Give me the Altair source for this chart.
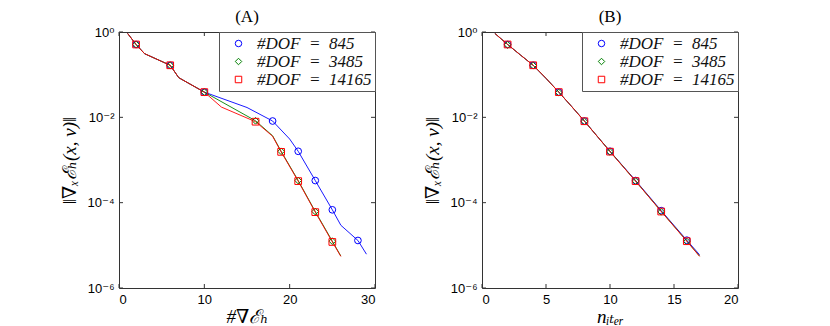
import altair as alt
import pandas as pd

# ---------------- data ----------------
SERIES = ["#DOF\u2002=\u2002845", "#DOF\u2002=\u20023485", "#DOF\u2002=\u200214165"]
COLORS = ["#0000ff", "#008000", "#ff0000"]
SHAPES = ["circle", "diamond", "square"]

# Panel A: error vs number of gradient evaluations
A_blue_line_x = [1, 2, 3, 6, 7, 10, 15, 18, 20, 21, 23, 25, 26, 28, 29]
A_blue_line_y = [0.93, 0.51, 0.31, 0.166, 0.085, 0.039, 0.017, 0.0082, 0.0031, 0.0016,
                 0.00033, 0.000068, 0.0000295, 0.000013, 0.0000062]
A_blue_mark_x = [2, 6, 10, 18, 21, 23, 25, 28]
A_blue_mark_y = [0.51, 0.166, 0.039, 0.0082, 0.0016, 0.00033, 0.000068, 0.000013]

A_green_line_x = [1, 2, 3, 6, 7, 10, 16, 18, 19, 21, 23, 25, 26]
A_green_line_y = [0.93, 0.51, 0.31, 0.166, 0.085, 0.039, 0.0083, 0.0037, 0.0016,
                  0.00033, 0.000062, 0.0000125, 0.0000056]
A_green_mark_x = [2, 6, 10, 16, 19, 21, 23, 25]
A_green_mark_y = [0.51, 0.166, 0.039, 0.0083, 0.0016, 0.00033, 0.000062, 0.0000125]

A_red_line_x = [1, 2, 3, 6, 7, 10, 12, 16, 18, 19, 21, 23, 25, 26]
A_red_line_y = [0.93, 0.51, 0.31, 0.166, 0.085, 0.039, 0.0174, 0.0079, 0.0036, 0.00155,
                0.00032, 0.00006, 0.000012, 0.0000055]
A_red_mark_x = [2, 6, 10, 16, 19, 21, 23, 25]
A_red_mark_y = [0.51, 0.166, 0.039, 0.0079, 0.00155, 0.00032, 0.00006, 0.000012]

# Panel B: error vs iterations
B_line_x = [1, 2, 3, 4, 5, 6, 7, 8, 9, 10, 12, 14, 16, 17]
B_blue_line_y = [0.93, 0.51, 0.29, 0.166, 0.082, 0.039, 0.018, 0.0082, 0.0036, 0.0016,
                 0.00033, 0.000065, 0.0000132, 0.000006]
B_green_line_y = [0.93, 0.51, 0.29, 0.166, 0.082, 0.039, 0.018, 0.0082, 0.0036, 0.0016,
                  0.00032, 0.000063, 0.0000126, 0.0000056]
B_red_line_y = [0.93, 0.51, 0.29, 0.166, 0.082, 0.039, 0.018, 0.0081, 0.0036, 0.00157,
                0.00032, 0.000062, 0.0000125, 0.0000055]
B_mark_x = [2, 4, 6, 8, 10, 12, 14, 16]
B_blue_mark_y = [0.51, 0.166, 0.039, 0.0082, 0.0016, 0.00033, 0.000065, 0.0000132]
B_green_mark_y = [0.50, 0.164, 0.038, 0.0080, 0.00155, 0.00032, 0.000061, 0.0000123]
B_red_mark_y = [0.51, 0.166, 0.039, 0.0081, 0.00157, 0.00032, 0.000062, 0.0000125]

A_xticks = [0, 10, 20, 30]
B_xticks = [0, 5, 10, 15, 20]
Y_ticks = [1e-6, 1e-4, 1e-2, 1]

W, H = 256, 256
TICK = 4


def frame(xs_list, ys_list):
    rows = []
    for s, xs, ys in zip(SERIES, xs_list, ys_list):
        for x, y in zip(xs, ys):
            rows.append({"x": x, "y": y, "series": s})
    return pd.DataFrame(rows)


serif = "'Liberation Serif', 'DejaVu Serif', serif"
sans = "'Liberation Sans', 'DejaVu Sans', sans-serif"

ylabel = ("datum.value > 0.5 ? '10\u2070' : datum.value > 0.005 ? '10\u207b\u00b2' : "
          "datum.value > 0.00005 ? '10\u207b\u2074' : '10\u207b\u2076'")


def panel(title, lines_df, marks_df, xdomain, xticks, xtitle):
    xscale = alt.Scale(domain=xdomain, nice=False, zero=False)
    yscale = alt.Scale(type="log", domain=[1e-6, 1], nice=False)
    xaxis = alt.Axis(values=xticks, title=xtitle, titleFont=serif, titleFontSize=19,
                     titleFontStyle="italic", titleFontWeight="normal", titlePadding=1)
    yaxis = alt.Axis(values=Y_ticks, labelExpr=ylabel, title="\u2016\u2207\u2093\u2130\u2095(x, v)\u2016",
                     titleFont=serif, titleFontSize=19, titleFontStyle="italic",
                     titleFontWeight="normal", titlePadding=8)
    X = alt.X("x:Q", scale=xscale, axis=xaxis)
    Y = alt.Y("y:Q", scale=yscale, axis=yaxis)
    cscale = alt.Scale(domain=SERIES, range=COLORS)
    sscale = alt.Scale(domain=SERIES, range=SHAPES)

    line_layers = []
    for s, c in zip(SERIES, COLORS):
        line_layers.append(
            alt.Chart(lines_df).transform_filter(alt.datum.series == s)
            .mark_line(strokeWidth=0.9, color=c)
            .encode(x=X, y=Y, order=alt.Order("x:Q"))
        )
    legend = alt.Legend(title=None, orient="top-right", offset=0, padding=3,
                        strokeColor="#555", fillColor="white",
                        labelFont=serif, labelFontSize=17, labelFontStyle="italic",
                        labelColor="#111", symbolSize=42, symbolStrokeWidth=1,
                        rowPadding=0, labelOffset=10, symbolOffset=8)
    points = alt.Chart(marks_df).mark_point(filled=False, size=45, strokeWidth=1, opacity=1).encode(
        x=X, y=Y,
        color=alt.Color("series:N", scale=cscale, legend=legend),
        shape=alt.Shape("series:N", scale=sscale, legend=legend),
    )
    xt = pd.DataFrame({"x": xticks})
    yt = pd.DataFrame({"y": Y_ticks})
    tick_color = "#333"
    xt_top = alt.Chart(xt).mark_rule(color=tick_color).encode(x=X, y=alt.value(0), y2=alt.value(TICK))
    xt_bot = alt.Chart(xt).mark_rule(color=tick_color).encode(x=X, y=alt.value(H - TICK), y2=alt.value(H))
    yt_left = alt.Chart(yt).mark_rule(color=tick_color).encode(y=Y, x=alt.value(0), x2=alt.value(TICK))
    yt_right = alt.Chart(yt).mark_rule(color=tick_color).encode(y=Y, x=alt.value(W - TICK), x2=alt.value(W))

    return alt.layer(*line_layers, points, xt_top, xt_bot, yt_left, yt_right).properties(
        width=W, height=H,
        title=alt.TitleParams(title, font=serif, fontSize=17, fontWeight="normal", offset=0),
    )


A_lines = frame([A_blue_line_x, A_green_line_x, A_red_line_x], [A_blue_line_y, A_green_line_y, A_red_line_y])
A_marks = frame([A_blue_mark_x, A_green_mark_x, A_red_mark_x], [A_blue_mark_y, A_green_mark_y, A_red_mark_y])
B_lines = frame([B_line_x] * 3, [B_blue_line_y, B_green_line_y, B_red_line_y])
B_marks = frame([B_mark_x] * 3, [B_blue_mark_y, B_green_mark_y, B_red_mark_y])

pA = panel("(A)", A_lines, A_marks, [0, 30], A_xticks, "#\u2207\u2130\u2095")
pB = panel("(B)", B_lines, B_marks, [0, 20], B_xticks, "n\u1d62\u209c\u2091\u1d63")

chart = alt.hconcat(pA, pB, spacing=46).resolve_scale(
    color="independent", shape="independent"
).resolve_legend(color="independent", shape="independent").properties(
    padding={"left": 51, "top": -1, "right": 5, "bottom": 0}
).configure_view(stroke="#333", strokeWidth=1).configure_axis(
    grid=False, domain=False, ticks=False, labelFont=sans, labelFontSize=13,
    labelColor="#000", labelPadding=5, titleColor="#000"
).configure_title(color="#000", anchor="middle")

chart.save("out.html", embed_options={"renderer": "svg", "actions": False})
